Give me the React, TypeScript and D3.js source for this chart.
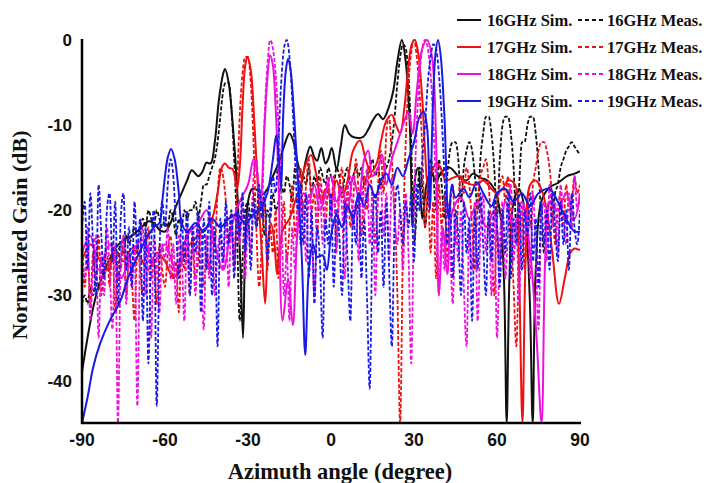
import React from 'react';
import * as d3 from 'd3';

const W = 709;
const H = 483;
const PLOT = { left: 82, right: 580, top: 40, bottom: 423 };

const xTicks = [-90, -60, -30, 0, 30, 60, 90];
const yTicks = [0, -10, -20, -30, -40];
const angles = d3.range(-90, 91, 1);

// Simulated patterns: [azimuth deg, normalized gain dB]
const sim16: [number, number][] = [
  [-90, -39], [-88, -35], [-86, -31.5], [-84, -29], [-81, -26.5], [-78, -24.5], [-75, -23.5], [-72, -23],
  [-69, -22.2], [-66, -21.3], [-64, -21.5], [-62, -22.3], [-60, -22.5], [-58, -21.5], [-56, -19.5], [-54, -18],
  [-52, -16.5], [-50.3, -15.3], [-48, -16], [-46.5, -15.5], [-45, -14.4], [-43.5, -14.5], [-42, -12], [-40.5, -7],
  [-39, -4], [-38.3, -3.4], [-37, -5], [-35.5, -10], [-34, -17], [-32.8, -26], [-31.8, -35], [-31, -24], [-30, -19],
  [-28.5, -17.5], [-26.8, -17.6], [-25, -18.2], [-23, -17.5], [-21, -16], [-19, -14.5], [-17, -12.5], [-15, -11],
  [-13.5, -12], [-12, -14.5], [-10.5, -16], [-9, -14], [-7.5, -12.5], [-6, -13.8], [-5, -14.2], [-3.5, -12.7],
  [-2, -14.5], [-1, -14], [0.3, -12.7], [2, -15.2], [3.5, -12.5], [5, -10], [6.5, -11], [8, -11.4], [11.5, -11.4],
  [13.5, -10.5], [15, -9.5], [17, -8.7], [18.8, -9.3], [21, -7.8], [22.5, -6], [24, -2.5], [25.6, 0], [27, -2.5],
  [28.5, -10], [29.5, -22], [30.5, -16], [31.5, -15], [33, -21], [34.5, -17], [36, -15.5], [38, -16.5], [40, -15.5],
  [43, -15], [46, -16], [49, -16.5], [51.3, -15.7], [54, -16.2], [56.4, -16.5], [59, -17.5], [61, -20], [62.5, -28],
  [63.5, -45], [64.5, -28], [66, -19], [68, -17.5], [70, -20], [71.8, -30], [72.9, -45], [74, -27], [76, -19],
  [79, -17.3], [82, -16.8], [85.3, -16], [88, -15.7], [90, -15.4],
];

const sim17: [number, number][] = [
  [-90, -26], [-87, -24], [-84, -25.6], [-81, -27], [-78, -25], [-75, -26], [-72, -24.5], [-69, -25.5], [-66, -27],
  [-63, -25], [-60, -26], [-57, -28], [-54, -26], [-51, -24], [-48, -23], [-45, -22], [-43, -21], [-41, -18],
  [-39.5, -15], [-38.3, -14.5], [-37, -15], [-35.5, -15.2], [-34, -17.5], [-33, -15], [-32, -8], [-31, -3],
  [-30.2, -2], [-29, -3.5], [-28, -8], [-26.5, -17], [-25, -25], [-23.8, -31], [-22.8, -24], [-21.8, -21.5],
  [-20.7, -23], [-19.5, -27.5], [-18.5, -24], [-17, -22], [-15, -21], [-13, -19], [-11, -17], [-9, -14.5],
  [-7.2, -13.5], [-5.5, -15.5], [-3.5, -19], [-2, -17.5], [0, -18.5], [2, -16.5], [4, -18.5], [6, -16.5], [8, -13],
  [10.5, -11.8], [12.5, -14], [14.5, -15.5], [16.5, -14.5], [18, -12], [20, -9.5], [22, -8.8], [23.5, -10], [25, -11],
  [26.5, -8], [28, -3], [29.2, -0.5], [30.3, 0], [31.5, -1.5], [33, -7], [34, -13], [35, -17], [36.5, -15.5],
  [38, -14.5], [39.5, -14.9], [41.5, -16.5], [44, -16.2], [46.6, -16], [49, -16.8], [52.7, -17], [55, -16.5],
  [58, -17.5], [60, -18], [62, -17.5], [64, -16.5], [66.5, -17], [67.8, -25], [69.2, -45], [70.4, -25], [72, -17],
  [74, -16.5], [76, -17.5], [78, -20], [80, -25], [82.4, -31], [84.5, -28], [86.5, -25], [88, -24.5], [90, -24.7],
];

const sim18: [number, number][] = [
  [-90, -25], [-87, -23], [-84, -27], [-80, -24], [-76, -28], [-72, -25], [-68, -23.5], [-64, -26], [-60, -24],
  [-56, -27], [-52, -23], [-48, -21.5], [-45, -20], [-42, -24], [-39, -27], [-36, -22], [-33, -19], [-30, -17],
  [-28, -14], [-26.5, -16], [-25.5, -19], [-24, -10], [-23, -4.5], [-22, -1.8], [-21, -3], [-20, -8], [-19, -16],
  [-17.5, -33], [-15.5, -28], [-13.8, -33.5], [-12, -22], [-10, -18], [-8, -19], [-6, -17], [-4, -20], [-2, -18],
  [0, -16], [2, -19], [4, -17.5], [6, -20], [8, -16], [10, -18.5], [12, -14], [13.5, -13], [15, -16], [17, -15],
  [18.5, -13.5], [20, -17], [22, -14], [24, -12], [26, -10], [28, -8.5], [29.5, -11], [31, -6], [33, -1], [34.7, 0],
  [36.5, -2], [38, -12], [39, -30], [40.5, -22], [42, -27.5], [44, -20], [47, -18.5], [50, -21], [53, -19], [56, -22],
  [59, -20], [61, -26], [63, -19], [66, -22], [69, -19], [72, -25], [74.3, -35], [76.1, -45], [77.5, -25], [79, -19],
  [82, -20], [85, -18], [88, -21], [90, -18],
];

const sim19: [number, number][] = [
  [-90, -45], [-88, -42], [-86, -38.5], [-83.5, -35.7], [-80, -33], [-76.3, -30.8], [-73.4, -28], [-70, -25.5],
  [-67, -23.5], [-64, -22], [-62, -21.5], [-61, -19], [-60, -16], [-59, -13.8], [-57.8, -12.8], [-56.5, -14],
  [-55, -18], [-54, -21.5], [-52, -22.5], [-49, -21.5], [-46, -22.5], [-43, -21], [-40, -22], [-37, -21], [-34, -20.5],
  [-31, -21.5], [-28, -20.5], [-25, -19.5], [-23, -18], [-21, -14], [-19.8, -11.2], [-18.8, -14], [-18, -17.5],
  [-17.3, -9], [-16.3, -3.5], [-15.5, -2.2], [-14.6, -3.5], [-13.5, -8], [-12, -16], [-10.5, -26], [-9.3, -37],
  [-8, -27], [-6.5, -24], [-5, -25.5], [-3, -25.3], [-1.5, -27], [0, -23], [2, -20.5], [4, -22], [6, -19.5], [8, -21],
  [10, -18], [12, -19.5], [14, -17], [16, -18.5], [18, -16.5], [20, -15.7], [22, -17], [24, -15], [26, -16], [28, -14],
  [30, -12], [32, -9], [33.5, -8.4], [34.8, -10.5], [35.7, -20], [36.8, -8], [37.8, -1.5], [38.7, 0], [39.7, -2],
  [41, -9], [42.5, -21], [43.7, -17], [45, -18.5], [48, -17.5], [50, -18.5], [52.7, -16.7], [55, -18], [58, -19.5],
  [60, -18], [63, -17.5], [66, -19], [69, -18], [72, -19.5], [75, -18], [79, -17.5], [82, -19], [85, -21], [88, -22.5],
  [90, -22.5],
];

// Measured patterns, one value per degree from -90 to 90
const meas16 = [
  -31, -30, -31, -29, -30, -28, -29, -27, -28, -26,
  -27, -25, -26, -25, -24, -25, -23, -24, -23, -22,
  -23, -22, -21, -22, -20, -21, -22, -20, -21, -22,
  -21, -22, -20, -21, -23, -21, -22, -20, -21, -20,
  -20, -19, -21, -19, -17, -17, -16, -15, -14, -12,
  -9, -6, -5, -5, -8, -14, -22, -33, -26, -20,
  -19, -21, -18, -22, -20, -19, -23, -20, -21, -18,
  -20, -19, -17, -18, -16, -17, -19, -15, -16, -18,
  -16, -17, -15, -18, -16, -17, -15, -16, -17, -15,
  -16, -17, -15, -16, -18, -16, -15, -17, -16, -15,
  -16, -15, -17, -16, -15, -14, -16, -15, -17, -16,
  -15, -14, -12, -9, -5, -2, -0.5, -1, -4, -12,
  -24, -20, -15, -17, -22, -18, -14, -16, -20, -14,
  -17, -21, -16, -13, -12, -12, -14, -19, -15, -13,
  -12, -13, -16, -20, -14, -11, -9, -9, -11, -15,
  -21, -14, -10, -9, -9, -11, -15, -22, -17, -12,
  -12, -10, -9, -9, -11, -15, -21, -25, -21, -19,
  -21, -18, -17, -15, -14, -13, -12.5, -12, -12.5, -13,
  -13.5,
];

const meas17 = [
  -26, -29, -24, -31, -25, -28, -23, -30, -26, -25,
  -29, -24, -32, -26, -27, -23, -30, -25, -28, -33,
  -24, -27, -30, -25, -22, -28, -26, -31, -24, -27,
  -29, -25, -23, -28, -26, -32, -24, -27, -25, -30,
  -23, -28, -26, -22, -29, -25, -27, -21, -24, -18,
  -15, -16, -19, -24, -20, -27, -18, -9, -4, -2,
  -2, -5, -12, -22, -29, -24, -19, -27, -22, -25,
  -20, -28, -24, -19, -26, -22, -17, -23, -19, -15,
  -21, -17, -14, -20, -18, -23, -16, -19, -22, -17,
  -20, -16, -24, -18, -15, -21, -17, -22, -19, -14,
  -18, -23, -16, -20, -15, -19, -24, -17, -13, -18,
  -11, -9, -14, -20, -30, -45, -24, -12, -5, -1.5,
  0, -2, -6, -13, -22, -17, -25, -19, -28, -17,
  -22, -18, -26, -20, -17, -24, -19, -16, -18, -15,
  -17, -22, -27, -19, -16, -15, -14, -17, -23, -30,
  -20, -17, -16, -19, -16, -22, -29, -36, -24, -20,
  -27, -19, -22, -17, -15, -13, -12, -12, -13, -15,
  -19, -24, -20, -18, -22, -17, -20, -19, -16, -18,
  -17,
];

const meas18 = [
  -24, -28, -22, -33, -26, -23, -35, -25, -30, -22,
  -27, -34, -24, -45, -26, -23, -31, -25, -29, -24,
  -43, -25, -22, -30, -24, -35, -23, -27, -32, -24,
  -26, -22, -28, -24, -31, -23, -25, -33, -22, -27,
  -24, -30, -21, -26, -34, -23, -28, -22, -30, -25,
  -23, -27, -21, -29, -22, -26, -20, -24, -19, -28,
  -21, -25, -16, -14, -18, -20, -9, -3, 0, -1,
  -4, -10, -18, -30, -25, -33, -22, -27, -20, -24,
  -19, -26, -18, -22, -30, -20, -17, -24, -19, -16,
  -21, -18, -25, -17, -20, -28, -18, -16, -22, -19,
  -26, -17, -21, -15, -24, -18, -30, -19, -17, -23,
  -18, -26, -16, -21, -24, -20, -27, -18, -25, -38,
  -20, -10, -4, -1, 0, -1, -4, -10, -18, -30,
  -22, -27, -19, -24, -31, -21, -26, -20, -29, -36,
  -22, -27, -19, -33, -23, -18, -25, -21, -30, -20,
  -35, -24, -19, -28, -22, -17, -26, -21, -31, -19,
  -24, -20, -28, -18, -25, -34, -21, -19, -26, -17,
  -22, -19, -25, -17, -21, -24, -18, -22, -16, -20,
  -18,
];

const meas19 = [
  -22, -19, -27, -18, -24, -30, -17, -23, -28, -20,
  -18, -26, -19, -31, -21, -18, -27, -22, -29, -19,
  -25, -21, -33, -22, -38, -24, -20, -43, -25, -19,
  -22, -17, -14, -16, -22, -28, -21, -26, -20, -30,
  -22, -25, -20, -32, -21, -27, -19, -30, -22, -36,
  -21, -26, -19, -24, -20, -28, -20, -23, -18, -25,
  -20, -27, -19, -22, -17, -21, -18, -26, -20, -16,
  -18, -12, -5, -1, 0, -2, -7, -14, -20, -17,
  -24, -18, -28, -20, -31, -22, -26, -35, -21, -24,
  -18, -29, -20, -23, -30, -19, -26, -33, -20, -24,
  -18, -28, -21, -30, -41, -22, -18, -25, -20, -29,
  -19, -27, -36, -21, -17, -20, -24, -19, -22, -18,
  -26, -17, -20, -14, -10, -5, -2, -0.5, -1, -4,
  -9, -16, -24, -19, -28, -20, -23, -30, -19, -25,
  -21, -33, -20, -27, -18, -24, -30, -20, -26, -19,
  -22, -29, -20, -25, -18, -28, -21, -24, -19, -27,
  -20, -23, -18, -26, -21, -29, -19, -24, -20, -27,
  -18, -22, -26, -19, -24, -20, -27, -18, -22, -24,
  -20,
];

const freqLabels = ['16GHz', '17GHz', '18GHz', '19GHz'];
const colors = ['#111111', '#ee1111', '#ee11dd', '#1a1ae6'];
const simSeries = [sim16, sim17, sim18, sim19];
const measSeries = [meas16, meas17, meas18, meas19];

const serif = '"Liberation Serif", "Times New Roman", serif';
const sans = '"Liberation Sans", Arial, sans-serif';

export default function App() {
  const x = d3.scaleLinear().domain([-90, 90]).range([PLOT.left, PLOT.right]);
  const y = d3.scaleLinear().domain([-45, 0]).range([PLOT.bottom, PLOT.top]);

  const simLine = d3
    .line<[number, number]>()
    .x((d) => x(d[0]))
    .y((d) => y(d[1]))
    .curve(d3.curveCatmullRom.alpha(0.5));

  const measLine = d3
    .line<number>()
    .x((_, i) => x(angles[i]))
    .y((d) => y(d))
    .curve(d3.curveMonotoneX);

  const legendRowY = [20, 47, 74, 101];

  return (
    <svg
      width={W}
      height={H}
      style={{ position: 'absolute', left: 0, top: 0, background: '#fff' }}
    >
      <defs>
        <clipPath id="plotClip">
          <rect x={PLOT.left} y={PLOT.top - 3} width={PLOT.right - PLOT.left} height={PLOT.bottom - PLOT.top + 3} />
        </clipPath>
      </defs>

      <g clipPath="url(#plotClip)">
        {freqLabels.map((f, k) => (
          <g key={f}>
            <path d={simLine(simSeries[k]) || ''} fill="none" stroke={colors[k]} strokeWidth={2} />
            <path
              d={measLine(measSeries[k]) || ''}
              fill="none"
              stroke={colors[k]}
              strokeWidth={1.8}
              strokeDasharray="4,2"
            />
          </g>
        ))}
      </g>

      {/* axes */}
      <line x1={PLOT.left} x2={PLOT.left} y1={PLOT.top - 1} y2={PLOT.bottom + 1} stroke="#000" strokeWidth={2.5} />
      <line x1={PLOT.left - 1} x2={PLOT.right + 1} y1={PLOT.bottom} y2={PLOT.bottom} stroke="#000" strokeWidth={2.5} />

      {yTicks.map((t) => (
        <text
          key={t}
          x={PLOT.left - 10}
          y={y(t)}
          dy="0.36em"
          textAnchor="end"
          fontFamily={sans}
          fontWeight="bold"
          fontSize={17}
          fill="#111"
        >
          {t}
        </text>
      ))}
      {xTicks.map((t) => (
        <text
          key={t}
          x={x(t)}
          y={446}
          textAnchor="middle"
          fontFamily={sans}
          fontWeight="bold"
          fontSize={17.5}
          fill="#111"
        >
          {t}
        </text>
      ))}

      <text
        x={340}
        y={479}
        textAnchor="middle"
        fontFamily={serif}
        fontWeight="bold"
        fontSize={22.5}
        fill="#111"
      >
        Azimuth angle (degree)
      </text>
      <text
        transform={`translate(27, 235) rotate(-90)`}
        textAnchor="middle"
        fontFamily={serif}
        fontWeight="bold"
        fontSize={22}
        fill="#111"
      >
        Normalized Gain (dB)
      </text>

      {/* legend */}
      {freqLabels.map((f, k) => (
        <g key={'lg' + f}>
          <line x1={457} x2={481} y1={legendRowY[k]} y2={legendRowY[k]} stroke={colors[k]} strokeWidth={2} />
          <text
            x={487}
            y={legendRowY[k] + 6}
            fontFamily={serif}
            fontWeight="bold"
            fontSize={16.5}
            fill="#111"
          >
            {f} Sim.
          </text>
          <line
            x1={578}
            x2={603}
            y1={legendRowY[k]}
            y2={legendRowY[k]}
            stroke={colors[k]}
            strokeWidth={2}
            strokeDasharray="4,3"
          />
          <text
            x={607}
            y={legendRowY[k] + 6}
            fontFamily={serif}
            fontWeight="bold"
            fontSize={16.5}
            fill="#111"
          >
            {f} Meas.
          </text>
        </g>
      ))}
    </svg>
  );
}
